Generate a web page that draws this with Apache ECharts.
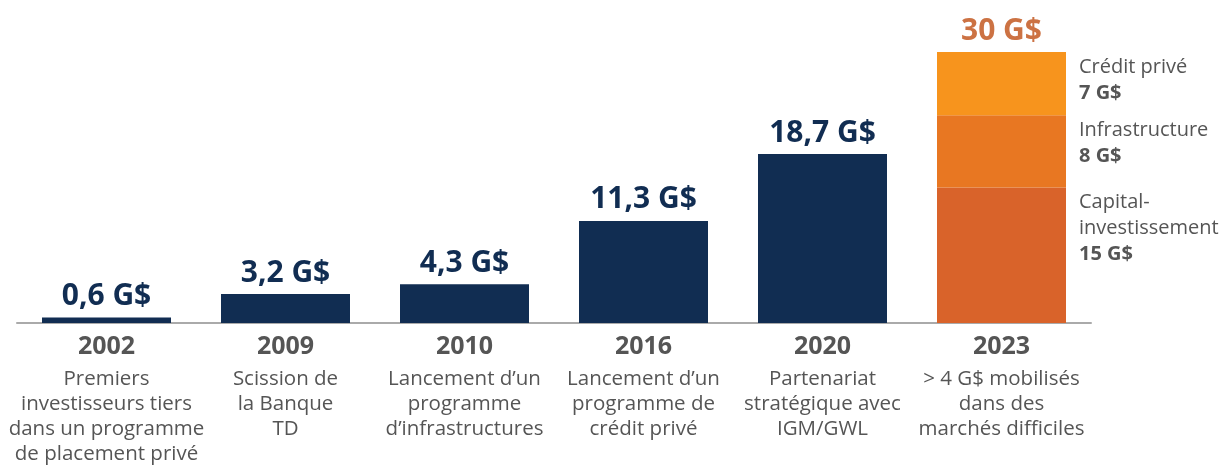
<!DOCTYPE html>
<html>
<head>
<meta charset="utf-8">
<script src="https://cdn.jsdelivr.net/npm/echarts@6/dist/echarts.min.js"></script>
<style>
  html, body { margin: 0; padding: 0; background: #fff; }
  #chart { width: 1228px; height: 466px; }
</style>
</head>
<body>
<div id="chart"></div>
<script>
// categories and their descriptions
const years = ['2002', '2009', '2010', '2016', '2020', '2023']
const descriptions = [
  'Premiers\ninvestisseurs tiers\ndans un programme\nde placement privé',
  'Scission de\nla Banque\nTD',
  'Lancement d\u2019un\nprogramme\nd\u2019infrastructures',
  'Lancement d\u2019un\nprogramme de\ncrédit privé',
  'Partenariat\nstratégique avec\nIGM/GWL',
  '> 4 G$ mobilisés\ndans des\nmarchés difficiles'
]
// total assets (G$) for 2002-2020
const totals = [0.6, 3.2, 4.3, 11.3, 18.7, null]
// 2023 breakdown
const capital = [null, null, null, null, null, 15]
const infra = [null, null, null, null, null, 8]
const credit = [null, null, null, null, null, 7]
const segmentNames = ['Capital-\ninvestissement', 'Infrastructure', 'Crédit privé']

const total2023 = years.map((y, i) =>
  capital[i] == null ? null : capital[i] + infra[i] + credit[i])

const fmt = v => (Number.isInteger(v) ? String(v) : v.toFixed(1).replace('.', ',')) + ' G$'
const font = '"Open Sans", "Noto Sans", sans-serif'

const chart = echarts.init(document.getElementById('chart'))

function segLabel(name) {
  return {
    show: true,
    position: [142, 2],
    align: 'left',
    verticalAlign: 'top',
    formatter: p => '{n|' + name.split('\n').join('}\n{n|') + '}\n{v|' + fmt(p.value) + '}',
    rich: {
      n: { fontFamily: font, fontSize: 20, color: '#555', lineHeight: 26 },
      v: { fontFamily: font, fontSize: 20, fontWeight: 'bold', color: '#555', lineHeight: 26 }
    }
  }
}

chart.setOption({
  animation: false,
  grid: { left: 17, right: 137, top: 52, bottom: 143 },
  xAxis: {
    type: 'category',
    data: years,
    axisTick: { show: false },
    axisLine: { lineStyle: { color: '#aaaaaa', width: 2 } },
    axisLabel: {
      margin: 4,
      interval: 0,
      formatter: (v, i) => '{y|' + v + '}\n{d|' + descriptions[i].split('\n').join('}\n{d|') + '}',
      rich: {
        y: { fontFamily: font, fontSize: 25, fontWeight: 'bold', color: '#555', lineHeight: 40 },
        d: { fontFamily: font, fontSize: 20.5, color: '#555', lineHeight: 25 }
      }
    }
  },
  yAxis: {
    type: 'value',
    min: 0,
    max: 30,
    show: false
  },
  series: [
    {
      type: 'bar',
      stack: 's',
      barWidth: 129,
      data: totals,
      itemStyle: { color: '#112d52' },
      label: {
        show: true,
        position: 'top',
        distance: 6,
        formatter: p => fmt(p.value),
        fontFamily: font,
        fontSize: 30,
        fontWeight: 'bold',
        color: '#112d52'
      }
    },
    {
      type: 'bar', stack: 's', barWidth: 129, data: capital,
      itemStyle: { color: '#d9632a' }, label: segLabel(segmentNames[0])
    },
    {
      type: 'bar', stack: 's', barWidth: 129, data: infra,
      itemStyle: { color: '#e87722' }, label: segLabel(segmentNames[1])
    },
    {
      type: 'bar', stack: 's', barWidth: 129, data: credit,
      itemStyle: { color: '#f7941d' }, label: segLabel(segmentNames[2])
    },
    {
      type: 'scatter',
      data: total2023,
      symbolSize: 0,
      label: {
        show: true,
        position: 'top',
        distance: 6,
        formatter: p => fmt(p.value),
        fontFamily: font,
        fontSize: 30,
        fontWeight: 'bold',
        color: '#bf4f14'
      }
    }
  ]
})
</script>
</body>
</html>
